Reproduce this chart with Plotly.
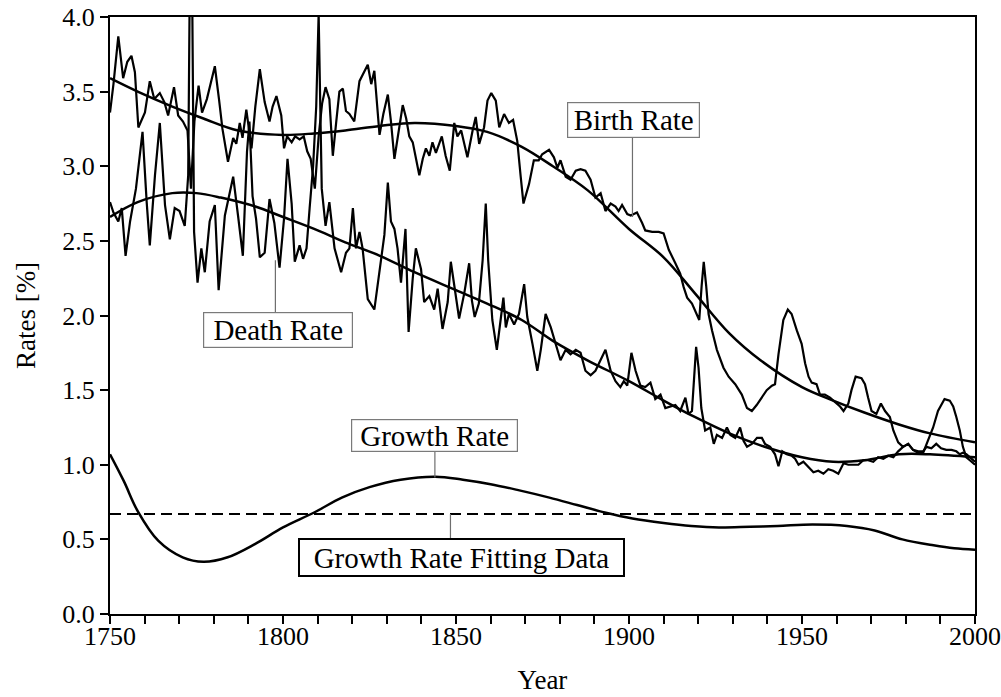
import plotly.graph_objects as go

# ---------------- data ----------------
birth_years = [1750.0, 1751.0, 1752.4, 1753.8, 1755.0, 1756.2, 1757.2, 1758.2, 1760.1, 1761.5, 1762.8, 1764.4,
               1765.7, 1766.8, 1768.5, 1769.7, 1771.1, 1772.4, 1773.4, 1774.4, 1775.6, 1776.6, 1778.0, 1779.0,
               1780.3, 1781.5, 1782.5, 1784.1, 1785.6, 1786.5, 1787.5, 1788.3, 1789.4, 1790.9, 1792.0, 1793.3,
               1794.7, 1796.1, 1797.0, 1798.1, 1799.5,
               1800.3, 1801.2, 1802.5, 1803.5, 1804.8, 1806.0, 1807.0, 1808.0, 1809.2, 1810.3, 1811.3, 1812.3,
               1813.4, 1814.4, 1815.4, 1816.3, 1817.3, 1818.2, 1819.2, 1820.6, 1822.1, 1823.0, 1824.5, 1825.5,
               1826.4, 1827.9, 1829.0, 1830.3, 1831.2, 1832.2, 1833.5, 1834.6, 1835.6, 1836.5, 1837.5, 1839.4,
               1840.4, 1841.3, 1842.3, 1843.2, 1844.2, 1845.9, 1847.0, 1848.2, 1849.5,
               1850.4, 1851.5, 1853.3, 1854.8, 1855.7, 1856.7, 1858.1, 1859.1, 1860.2, 1861.5, 1862.5, 1863.9,
               1865.3, 1866.5, 1867.7, 1868.7, 1869.5, 1871.1, 1872.5, 1873.9, 1874.9, 1876.9, 1878.3, 1879.3,
               1880.2, 1881.7, 1883.1, 1884.6, 1886.0, 1887.4, 1888.9, 1890.3, 1891.8, 1893.2, 1894.7, 1896.1,
               1897.0, 1898.0, 1899.5,
               1900.5, 1902.3, 1903.8, 1904.7, 1906.7, 1908.6, 1910.0, 1911.5, 1913.4, 1914.8, 1915.8, 1916.8,
               1918.2, 1919.6, 1920.3, 1921.0, 1921.6, 1922.3, 1923.0, 1924.0, 1925.4, 1927.3, 1928.8, 1930.7,
               1932.6, 1934.1, 1935.5, 1936.9, 1938.4, 1939.8, 1941.3, 1942.2, 1943.2, 1944.6, 1945.9, 1947.0,
               1948.5, 1949.9,
               1950.9, 1951.9, 1952.8, 1954.2, 1955.2, 1956.6, 1958.1, 1959.5, 1961.0, 1962.0, 1963.4, 1964.3,
               1965.5, 1967.2, 1968.2, 1969.1, 1970.1, 1971.5, 1972.8, 1974.0, 1975.4, 1976.4, 1977.8, 1979.2,
               1980.7, 1982.1, 1983.6, 1985.0, 1986.4, 1987.9, 1989.3, 1991.2, 1992.7, 1993.7, 1994.6, 1995.6,
               1996.5, 1997.5, 1998.5, 2000.0]
birth_rate = [3.36, 3.55, 3.87, 3.59, 3.70, 3.74, 3.63, 3.26, 3.36, 3.57, 3.45, 3.49,
              3.43, 3.34, 3.53, 3.34, 3.30, 3.24, 2.85, 3.30, 3.54, 3.36, 3.45, 3.55,
              3.67, 3.45, 3.25, 3.03, 3.19, 3.15, 3.29, 3.19, 3.38, 3.12, 3.40, 3.65,
              3.43, 3.30, 3.40, 3.47, 3.34,
              3.12, 3.20, 3.16, 3.20, 3.18, 3.20, 3.10, 3.05, 2.85, 3.20, 3.42, 3.53,
              3.45, 3.07, 3.30, 3.50, 3.52, 3.37, 3.35, 3.30, 3.57, 3.61, 3.68, 3.55,
              3.64, 3.21, 3.35, 3.48, 3.30, 3.05, 3.25, 3.41, 3.32, 3.20, 3.16, 2.94,
              3.05, 3.12, 3.07, 3.16, 3.09, 3.20, 3.07, 2.97, 3.29,
              3.20, 3.24, 3.06, 3.24, 3.33, 3.15, 3.26, 3.44, 3.49, 3.44, 3.26, 3.35,
              3.29, 3.31, 3.17, 2.93, 2.75, 2.88, 3.04, 3.04, 3.08, 3.11, 3.06, 2.99,
              3.04, 2.93, 2.91, 2.97, 2.98, 2.97, 2.91, 2.79, 2.82, 2.70, 2.75, 2.73,
              2.70, 2.74, 2.68,
              2.67, 2.69, 2.62, 2.57, 2.56, 2.56, 2.55, 2.44, 2.35, 2.28, 2.19, 2.12,
              2.08, 2.01, 1.97, 2.20, 2.36, 2.20, 2.01, 1.90, 1.77, 1.65, 1.59, 1.54,
              1.47, 1.38, 1.36, 1.40, 1.45, 1.50, 1.53, 1.54, 1.74, 1.97, 2.04, 2.01,
              1.90, 1.81,
              1.68, 1.59, 1.55, 1.54, 1.47, 1.47, 1.45, 1.42, 1.39, 1.36, 1.41, 1.50,
              1.59, 1.58, 1.54, 1.45, 1.36, 1.34, 1.41, 1.36, 1.32, 1.23, 1.15, 1.12,
              1.14, 1.10, 1.08, 1.08, 1.16, 1.25, 1.36, 1.44, 1.43, 1.39, 1.32, 1.23,
              1.12, 1.05, 1.03, 1.00]

death_years = [1750.0, 1751.0, 1752.4, 1753.4, 1754.5, 1755.8, 1757.5, 1759.4, 1760.6, 1761.5, 1763.0, 1764.4,
               1765.9, 1767.3, 1768.7, 1770.1, 1771.6, 1772.6, 1773.4, 1774.3, 1775.3, 1776.4, 1777.4, 1778.8,
               1780.3, 1781.4, 1783.2, 1785.6, 1787.0, 1788.4, 1789.6, 1790.3, 1791.2, 1792.2, 1793.3, 1794.7,
               1796.1, 1797.5, 1799.0,
               1800.3, 1801.3, 1802.5, 1803.4, 1804.8, 1805.8, 1806.8, 1807.7, 1808.7, 1809.6, 1810.3, 1811.2,
               1812.3, 1813.4, 1814.9, 1816.8, 1818.2, 1819.2, 1820.2, 1821.1, 1822.1, 1823.0, 1824.5, 1826.4,
               1827.9, 1829.3, 1830.3, 1831.2, 1832.2, 1833.1, 1834.1, 1835.4, 1836.3, 1837.5, 1838.4, 1839.9,
               1840.8, 1842.3, 1843.7, 1844.7, 1846.1, 1847.6, 1848.5, 1849.5,
               1850.9, 1852.4, 1853.8, 1854.6, 1855.4, 1856.6, 1857.7, 1858.6, 1859.3, 1860.5, 1861.8, 1863.0,
               1863.7, 1864.4, 1865.3, 1866.8, 1868.2, 1869.7, 1870.6, 1872.1, 1873.5, 1874.5, 1875.9, 1877.4,
               1878.8, 1880.2, 1881.7, 1883.1, 1884.6, 1886.0, 1887.4, 1888.9, 1890.3, 1891.8, 1893.2, 1894.7,
               1896.1, 1897.5, 1898.5, 1899.5,
               1900.7, 1901.9, 1903.3, 1904.7, 1906.2, 1907.6, 1909.1, 1910.5, 1912.0, 1913.4, 1914.8, 1916.3,
               1917.2, 1918.2, 1919.4, 1920.1, 1920.9, 1922.0, 1923.5, 1924.5, 1925.4, 1926.9, 1928.3, 1929.3,
               1930.7, 1932.1, 1933.1, 1934.1, 1935.5, 1937.0, 1938.4, 1939.3, 1940.8, 1942.2, 1943.2, 1944.3,
               1945.6, 1947.0, 1948.0, 1949.0,
               1950.4, 1951.9, 1953.3, 1954.7, 1956.2, 1957.6, 1959.0, 1960.5, 1962.0, 1963.4, 1964.8, 1966.3,
               1967.7, 1969.1, 1970.6, 1972.0, 1973.5, 1974.9, 1976.4, 1977.8, 1979.2, 1980.7, 1982.1, 1983.6,
               1985.0, 1986.0, 1987.4, 1988.8, 1990.2, 1991.7, 1993.2, 1994.6, 1995.6, 1996.5, 1997.5, 1998.5,
               2000.0]
death_rate = [2.76, 2.69, 2.63, 2.72, 2.40, 2.63, 2.85, 3.23, 2.76, 2.47, 2.94, 3.29,
              2.74, 2.51, 2.72, 2.70, 2.60, 2.94, 5.20, 2.56, 2.22, 2.45, 2.29, 2.63,
              2.74, 2.17, 2.67, 2.93, 2.67, 2.40, 3.10, 3.30, 2.80, 2.65, 2.39, 2.42,
              2.78, 2.62, 2.32,
              2.65, 3.05, 2.75, 2.36, 2.47, 2.38, 2.45, 2.72, 3.00, 3.40, 4.02, 2.85,
              2.60, 2.76, 2.45, 2.29, 2.42, 2.45, 2.72, 2.45, 2.56, 2.45, 2.11, 2.04,
              2.31, 2.54, 2.89, 2.63, 2.58, 2.45, 2.22, 2.58, 1.89, 2.25, 2.45, 2.31,
              2.09, 2.13, 2.04, 2.18, 1.91, 2.09, 2.36, 2.19,
              1.98, 2.15, 2.35, 2.10, 1.99, 2.08, 2.37, 2.75, 2.37, 1.97, 1.77, 1.99,
              2.12, 1.92, 2.01, 1.94, 2.01, 2.21, 1.99, 1.81, 1.63, 1.77, 2.01, 1.92,
              1.81, 1.70, 1.77, 1.74, 1.77, 1.75, 1.63, 1.60, 1.63, 1.70, 1.77, 1.63,
              1.56, 1.52, 1.56, 1.53,
              1.75, 1.63, 1.53, 1.52, 1.55, 1.44, 1.47, 1.38, 1.39, 1.40, 1.36, 1.45,
              1.34, 1.36, 1.79, 1.65, 1.38, 1.23, 1.25, 1.14, 1.20, 1.18, 1.25, 1.20,
              1.18, 1.25, 1.16, 1.12, 1.14, 1.18, 1.18, 1.14, 1.12, 1.07, 0.99, 1.09,
              1.07, 1.06, 1.04, 1.00,
              1.02, 0.98, 0.95, 0.96, 0.94, 0.97, 0.96, 0.94, 1.01, 1.00, 1.00, 1.00,
              1.03, 1.03, 1.02, 1.05, 1.04, 1.06, 1.05, 1.09, 1.12, 1.14, 1.10, 1.09,
              1.09, 1.12, 1.11, 1.14, 1.11, 1.10, 1.10, 1.09, 1.07, 1.08, 1.07, 1.05,
              1.02]

birth_fit_years = [1750, 1758, 1768, 1777, 1787, 1800, 1809, 1818, 1828, 1838, 1850, 1859, 1869, 1878,
                   1888, 1900, 1910, 1919, 1929, 1938, 1950, 1959, 1968, 1978, 1987, 2000]
birth_fit = [3.59, 3.50, 3.40, 3.32, 3.24, 3.21, 3.22, 3.24, 3.27, 3.29, 3.27, 3.23, 3.13, 3.00,
             2.84, 2.58, 2.39, 2.15, 1.88, 1.70, 1.52, 1.43, 1.35, 1.27, 1.21, 1.15]

death_fit_years = [1750, 1758, 1768, 1775, 1782, 1792, 1800, 1809, 1818, 1828, 1838, 1850, 1859, 1869,
                   1878, 1888, 1900, 1910, 1919, 1929, 1938, 1950, 1959, 1968, 1978, 1987, 2000]
death_fit = [2.66, 2.76, 2.82, 2.82, 2.79, 2.73, 2.66, 2.58, 2.49, 2.40, 2.29, 2.17, 2.08, 1.97,
             1.83, 1.70, 1.56, 1.43, 1.32, 1.21, 1.13, 1.05, 1.02, 1.03, 1.07, 1.07, 1.05]

growth_years = [1750, 1754, 1758, 1764, 1771, 1777, 1784, 1792, 1800, 1809, 1817, 1825, 1834, 1844,
                1852, 1860, 1868, 1877, 1885, 1893, 1901, 1910, 1918, 1926, 1935, 1943, 1953, 1963,
                1971, 1979, 1988, 1994, 2000]
growth_rate = [1.07, 0.89, 0.69, 0.49, 0.38, 0.35, 0.38, 0.47, 0.58, 0.68, 0.78, 0.85, 0.90, 0.92,
               0.90, 0.87, 0.83, 0.78, 0.73, 0.68, 0.64, 0.61, 0.59, 0.58, 0.585, 0.59, 0.60, 0.59,
               0.56, 0.50, 0.46, 0.44, 0.43]

fit_data_years = [1750, 2000]
fit_data_rate = [0.67, 0.67]

x_tick_vals = [1750, 1800, 1850, 1900, 1950, 2000]
y_tick_vals = [0.0, 0.5, 1.0, 1.5, 2.0, 2.5, 3.0, 3.5, 4.0]

# ---------------- figure ----------------
FONT = "Liberation Serif, Times New Roman, serif"
fig = go.Figure()

noisy = dict(color="black", width=2.2)
smooth = dict(color="black", width=2.5, shape="spline", smoothing=1.0)

fig.add_trace(go.Scatter(x=birth_years, y=birth_rate, mode="lines", line=noisy, name="Birth Rate"))
fig.add_trace(go.Scatter(x=death_years, y=death_rate, mode="lines", line=noisy, name="Death Rate"))
fig.add_trace(go.Scatter(x=birth_fit_years, y=birth_fit, mode="lines", line=smooth, name="Birth fit"))
fig.add_trace(go.Scatter(x=death_fit_years, y=death_fit, mode="lines", line=smooth, name="Death fit"))
fig.add_trace(go.Scatter(x=growth_years, y=growth_rate, mode="lines", line=smooth, name="Growth Rate"))
fig.add_trace(go.Scatter(x=fit_data_years, y=fit_data_rate, mode="lines",
                         line=dict(color="black", width=2, dash="11px,6px"), name="Growth Rate Fitting Data"))

# leader lines
leaders = [
    (1901.0, 2.66, 3.30),
    (1797.8, 2.37, 1.90),
    (1843.9, 0.915, 1.20),
    (1848.4, 0.67, 0.38),
]
for lx, y0, y1 in leaders:
    fig.add_shape(type="line", x0=lx, x1=lx, y0=y0, y1=y1, xref="x", yref="y",
                  line=dict(color="#6e6e6e", width=1.2), layer="above")

boxes = [
    ("Birth Rate", 1901.4, 3.31, 131, 34, "#7a7a7a", 1.2),
    ("Death Rate", 1798.5, 1.906, 148, 34, "#7a7a7a", 1.2),
    ("Growth Rate", 1843.8, 1.198, 165, 31, "#7a7a7a", 1.2),
    ("Growth Rate Fitting Data", 1851.6, 0.376, 323, 35, "black", 2),
]
for txt, bx, by, bw, bh, bc, bwid in boxes:
    fig.add_annotation(x=bx, y=by, xref="x", yref="y", text=txt, showarrow=False,
                       font=dict(family=FONT, size=29, color="black"),
                       bgcolor="white", bordercolor=bc, borderwidth=bwid, borderpad=0,
                       width=bw, height=bh, xanchor="center", yanchor="middle")

fig.update_layout(
    width=1001, height=697,
    margin=dict(l=110, r=26, t=17, b=83, autoexpand=False),
    paper_bgcolor="white", plot_bgcolor="white",
    showlegend=False,
    font=dict(family=FONT, color="black"),
)
fig.update_xaxes(
    range=[1750, 2000], tickvals=x_tick_vals, ticktext=[str(v) for v in x_tick_vals],
    showline=True, linecolor="black", linewidth=2, mirror=True,
    ticks="outside", ticklen=8, tickwidth=2, tickcolor="black",
    minor=dict(dtick=10, tick0=1750, ticks="outside", ticklen=8, tickwidth=2, tickcolor="black"),
    showgrid=False, zeroline=False, automargin=False,
    ticklabelstandoff=-10, ticklabeloverflow="allow",
    tickfont=dict(family=FONT, size=26, color="black"),
    title=dict(text="Year", font=dict(family=FONT, size=27, color="black"), standoff=20),
)
fig.update_yaxes(
    range=[0, 4], tickvals=y_tick_vals, ticktext=["%.1f" % v for v in y_tick_vals],
    showline=True, linecolor="black", linewidth=2, mirror=True,
    ticks="outside", ticklen=8, tickwidth=2, tickcolor="black",
    showgrid=False, zeroline=False, automargin=False,
    ticklabeloverflow="allow",
    tickfont=dict(family=FONT, size=26, color="black"),
    title=dict(text="Rates [%]", font=dict(family=FONT, size=27, color="black"), standoff=19),
)

# remove the default 8px page margin so the figure fills the window exactly
fig.write_html("out.html", config={"displayModeBar": False},
               post_script="document.body.style.margin='0';document.body.style.overflow='hidden';")
